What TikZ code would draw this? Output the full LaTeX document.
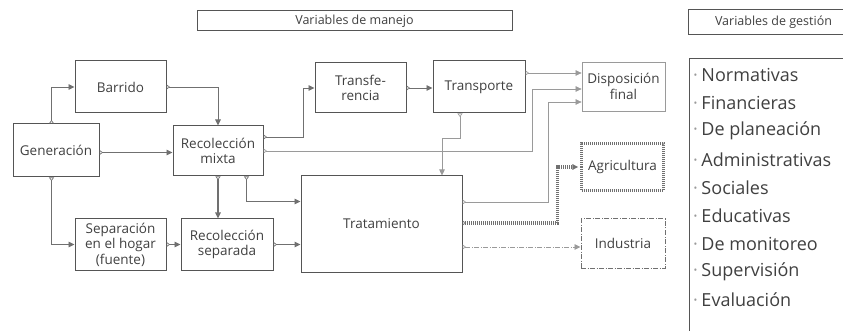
\documentclass[tikz,border=0pt]{standalone}
\usepackage{fontspec}
\setmainfont{Open Sans}
\usetikzlibrary{arrows.meta,calc}
\definecolor{ln}{HTML}{707070}
\definecolor{lnl}{HTML}{9A9A9A}
\definecolor{bx}{HTML}{555555}
\definecolor{tx}{HTML}{404040}
\begin{document}
\begin{tikzpicture}[x=1pt,y=-1pt,
  box/.style={draw=bx,line width=1pt,inner sep=0pt,align=center,text=tx,
    font=\fontsize{13.5}{15.5}\selectfont},
  hdr/.style={draw=bx,line width=1pt,inner sep=0pt,text=tx,
    font=\fontsize{12.5}{14}\selectfont},
  item/.style={anchor=west,inner sep=0pt,text=tx,font=\fontsize{18}{20}\selectfont},
  conn/.style={draw=ln,line width=0.9pt,
    {Triangle[open,reversed,length=3.5pt,width=5pt,line width=0.6pt]}-{Triangle[length=6pt,width=5.5pt]}},
  thinconn/.style={conn,draw=lnl,line width=0.7pt},
  thickconn/.style={conn,line width=1.6pt},
  agriconn/.style={draw=ln,line width=3.2pt,dash pattern=on 1pt off 1pt,
    {Triangle[open,reversed,length=3.5pt,width=5pt,line width=0.6pt]}-{Triangle[length=6pt,width=5.5pt]}},
  indconn/.style={draw=lnl,line width=0.9pt,dash pattern=on 5pt off 1.5pt on 1pt off 1.5pt,
    {Triangle[open,reversed,length=3.5pt,width=5pt,line width=0.6pt]}-{Triangle[length=6pt,width=5.5pt]}}
]
\useasboundingbox (0,0) rectangle (843,331);

% headers
\node[hdr,minimum width=315pt,minimum height=20pt] (hman) at (354.5,21) {Variables de manejo};
\node[hdr,anchor=west,minimum width=170pt,minimum height=25pt] (hges) at (688,22.5) {Variables de gestión};

% management variables list
\node[draw=bx,line width=1pt,anchor=north west,minimum width=175pt,minimum height=285pt,inner sep=0pt] (lst) at (689,58) {};
\foreach \t [count=\i from 0] in {Normativas,Financieras,De planeación,Administrativas,Sociales,Educativas,De monitoreo,Supervisión,Evaluación}{
  \node[item] (it\i) at (693,{75+28.1*\i}) {{\color{lnl}·}\hspace{3.5pt}\t};
}

% boxes
\node[box,minimum width=86pt,minimum height=53pt] (gen) at (56,150.5) {Generación};
\node[box,minimum width=91pt,minimum height=52pt] (barr) at (120.5,87) {Barrido};
\node[box,minimum width=90pt,minimum height=50pt] (rmix) at (218,151) {Recolección\\mixta};
\node[box,minimum width=91pt,minimum height=51pt] (sep) at (120.5,244.5) {Separación\\en el hogar\\(fuente)};
\node[box,minimum width=92pt,minimum height=51pt] (rsep) at (227,244.5) {Recolección\\separada};
\node[box,minimum width=91pt,minimum height=50pt] (transf) at (360.5,88) {Transfe-\\rencia};
\node[box,minimum width=92pt,minimum height=52pt] (transp) at (479,87) {Transporte};
\node[box,draw=lnl,line width=0.8pt,minimum width=83pt,minimum height=49pt] (disp) at (623.5,86.5) {Disposición\\final};
\node[box,draw=ln,line width=3.2pt,dash pattern=on 1pt off 1pt,minimum width=82pt,minimum height=47pt] (agri) at (622.5,167) {Agricultura};
\node[box,minimum width=161pt,minimum height=96pt] (trat) at (381.5,224) {Tratamiento};
\node[box,draw=ln,dash pattern=on 5pt off 1.5pt on 1pt off 1.5pt,minimum width=84pt,minimum height=49pt] (ind) at (623,243.5) {Industria};

% connectors
\draw[conn] ([xshift=39pt]gen.north west) |- (barr.west);
\draw[conn] (barr.east) -| (rmix.north);
\draw[conn] ([yshift=-2pt]gen.east) -- ([yshift=-2pt]gen.east -| rmix.west);
\draw[conn] ([xshift=39pt]gen.south west) |- (sep.west);
\draw[conn] (sep.east) -- (rsep.west);
\draw[thickconn] (rmix.south) -- (rmix.south |- rsep.north);
\draw[conn] ([xshift=74pt]rmix.south west) |- ([yshift=-26pt]trat.north west);
\draw[thickconn] (rsep.east) -- (rsep.east -| trat.west);
\draw[conn] ([yshift=14pt]rmix.east) -- ++(40,0) |- (transf.west);
\draw[thinconn] (rmix.east) -- ++(269,0) |- ([yshift=-2.5pt]disp.west);
\draw[conn] (transf.east) -- (transf.east -| transp.west);
\draw[thinconn] ([yshift=14pt]transp.east) -- ([yshift=14pt]transp.east -| disp.west);
\draw[thinconn] ([xshift=-19pt]transp.south) -- ++(0,25) -| ([xshift=60.5pt]trat.north);
\draw[thinconn] ([yshift=22pt]trat.east) -- ++(86,0) |- ([yshift=-15.5pt]disp.west);
\draw[agriconn] ([yshift=1pt]trat.east) -- ++(95,0) |- ([xshift=-1.6pt]agri.west);
\draw[indconn] ([yshift=-23pt]trat.east) -- ([yshift=-23pt]trat.east -| ind.west);
\end{tikzpicture}
\end{document}
